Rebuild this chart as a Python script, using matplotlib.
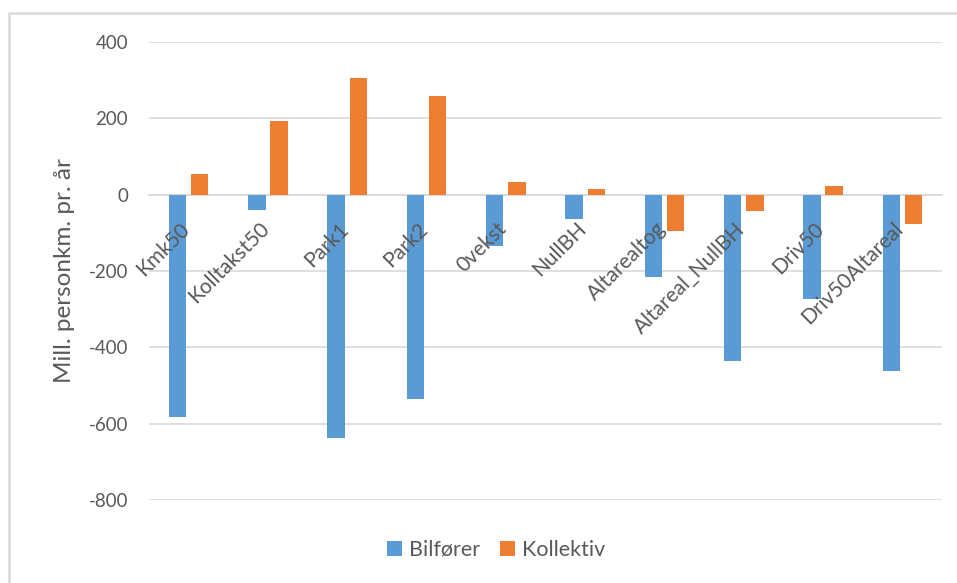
import numpy as np
import matplotlib.pyplot as plt
from matplotlib.patches import Rectangle
from matplotlib.transforms import ScaledTranslation

scenarios = ["Kmk50", "Kolltakst50", "Park1", "Park2", "0vekst", "NullBH",
             "Altarealtog", "Altareal_NullBH", "Driv50", "Driv50Altareal"]
bilforer = [-583, -39, -638, -536, -134, -63, -217, -436, -274, -462]
kollektiv = [55, 192, 306, 259, 34, 14, -96, -43, 24, -76]

BLUE = "#5B9BD5"
ORANGE = "#ED7D31"
GRID = "#D9D9D9"
TEXT = "#595959"

plt.rcParams["font.family"] = ["Lato", "DejaVu Sans"]
plt.rcParams["axes.unicode_minus"] = False

fig = plt.figure(figsize=(9.57, 5.83), dpi=100)
ax = fig.add_axes([149 / 957, 1 - 500 / 583, (942 - 149) / 957, (500 - 42) / 583])

# chart area frame
fig.patches.append(Rectangle((8.5 / 957, -0.1), 1.2, 1.1 - 13.5 / 583,
                             transform=fig.transFigure, fill=False,
                             edgecolor=GRID, linewidth=1.8))

x = np.arange(len(scenarios))
w = 0.22
off = 0.14
ax.bar(x - off, bilforer, w, color=BLUE, label="Bilfører", zorder=3)
ax.bar(x + off, kollektiv, w, color=ORANGE, label="Kollektiv", zorder=3)

ax.set_xlim(-0.5, len(scenarios) - 0.5)
ax.set_ylim(-800, 400)
ax.set_yticks(np.arange(-800, 401, 200))
ax.yaxis.grid(True, color=GRID, linewidth=1.2, zorder=0)
ax.set_axisbelow(True)

for s in ["top", "right", "left"]:
    ax.spines[s].set_visible(False)
ax.spines["bottom"].set_position(("data", 0))
ax.spines["bottom"].set_color(GRID)
ax.spines["bottom"].set_linewidth(1.2)

# category labels sit just below the zero line, over the bars
ax.set_xticks(x)
ax.set_xticklabels([])
ax.tick_params(axis="x", length=0)
lbl_tf = ax.transData + ScaledTranslation(5 / 100, -24 / 100, fig.dpi_scale_trans)
for xi, name in zip(x, scenarios):
    ax.text(xi, 0, name, transform=lbl_tf, rotation=45, ha="right", va="top",
            fontsize=15, color=TEXT, zorder=5)

ax.tick_params(axis="y", length=0, pad=15, labelsize=13.5, labelcolor=TEXT)
ax.set_ylabel("Mill. personkm. pr. år", fontsize=17.5, color=TEXT, labelpad=10)

fig.legend(loc="center", bbox_to_anchor=(496 / 957, 1 - 550 / 583), ncol=2,
           frameon=False, fontsize=15.5, labelcolor=TEXT, handlelength=0.7,
           handleheight=0.7, handletextpad=0.35, columnspacing=0.9)

fig.savefig("out.png", dpi=100)
